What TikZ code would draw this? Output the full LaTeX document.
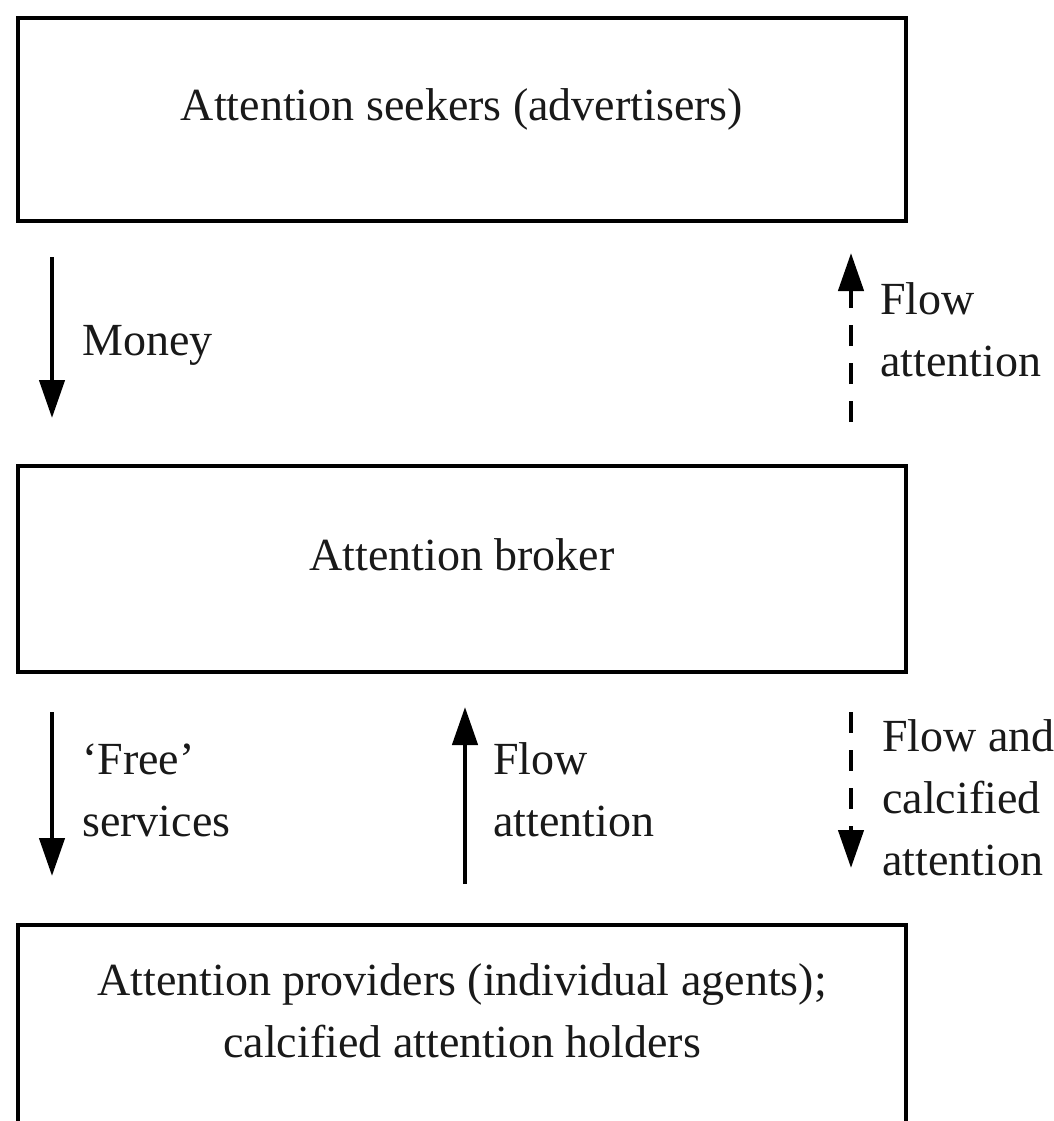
\documentclass[tikz,border=0pt]{standalone}
\usepackage{fontspec}
\setmainfont{Liberation Serif}
\usetikzlibrary{arrows.meta}
\begin{document}
\begin{tikzpicture}[x=1pt,y=-1pt,
  box/.style={draw, line width=4pt, inner sep=0pt},
  txt/.style={font=\fontsize{46}{62}\selectfont, inner sep=0pt, text=black!90},
  lbl/.style={txt, align=left, anchor=base west},
  flowarrow/.style={line width=4.5pt, -{Triangle[length=38pt,width=25pt]}},
  dasharrow/.style={flowarrow, dash pattern=on 21pt off 17pt}]
\useasboundingbox (0,0) rectangle (1054,1121);
\clip (0,0) rectangle (1054,1121);
% boxes
\node[box, minimum width=888pt, minimum height=203pt] (seekers) at (462,119.5) {};
\node[box, minimum width=888pt, minimum height=206pt] (broker) at (462,569) {};
\node[box, minimum width=888pt, minimum height=235pt] (providers) at (462,1042.5) {};
% box texts (base anchor = baseline of last line)
\node[txt, anchor=base] (seekerstxt) at (462,121) {Attention seekers (advertisers)};
\node[txt, anchor=base] (brokertxt) at (462,570) {Attention broker};
\node[txt, anchor=base, align=center] (providerstxt) at (462,1057) {Attention providers (individual agents);\\calcified attention holders};
% arrow end points
\coordinate (m1) at (52,257);
\coordinate (m2) at (52,418);
\coordinate (fa1) at (851,422);
\coordinate (fa2) at (851,253);
\coordinate (fs1) at (52,712);
\coordinate (fs2) at (52,876);
\coordinate (mf1) at (465,884);
\coordinate (mf2) at (465,707);
\coordinate (cf1) at (851,712);
\coordinate (cf2) at (851,868);
% arrows
\draw[flowarrow] (m1) -- (m2);
\draw[dasharrow] (fa1) -- (fa2);
\draw[flowarrow] (fs1) -- (fs2);
\draw[flowarrow] (mf1) -- (mf2);
\draw[dasharrow] (cf1) -- (cf2);
% labels
\node[lbl] (money) at (82,355) {Money};
\node[lbl] (flowtop) at (880,376) {Flow\\attention};
\node[lbl] (free) at (82,836) {‘Free’\\services};
\node[lbl] (flowmid) at (493,836) {Flow\\attention};
\node[lbl] (flowcalc) at (882,875) {Flow and\\calcified\\attention};
\end{tikzpicture}
\end{document}
